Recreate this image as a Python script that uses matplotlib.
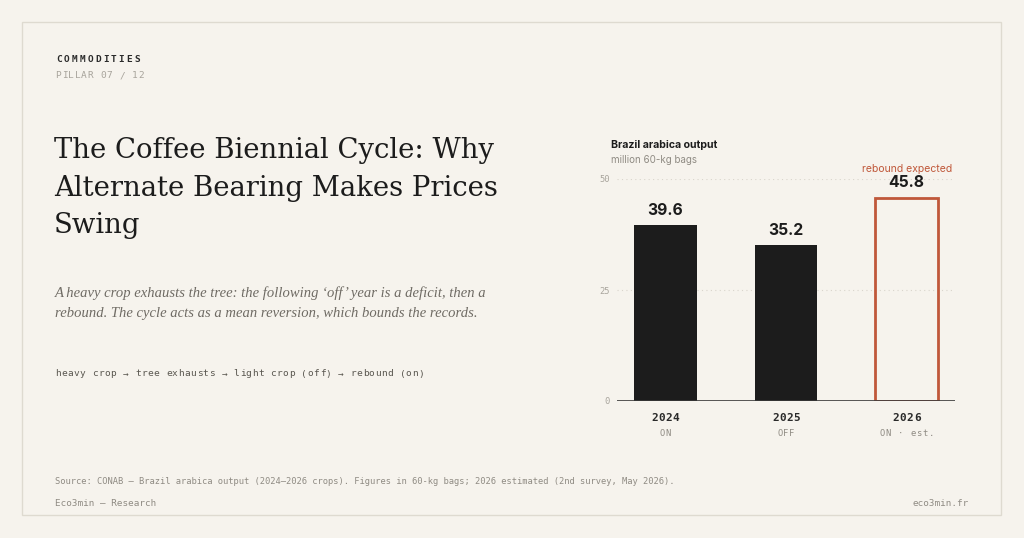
import matplotlib.pyplot as plt
from matplotlib.patches import Rectangle

# data
years = ["2024", "2025", "2026"]
phases = ["ON", "OFF", "ON · est."]
output = [39.6, 35.2, 45.8]
estimated = [False, False, True]
yticks = [0, 25, 50]

BG = "#f6f3ed"
INK = "#1c1c1c"
RED = "#c0583a"
W, H = 1024, 538

fig = plt.figure(figsize=(10.24, 5.38), dpi=100)
fig.patch.set_facecolor(BG)


def fx(px):
    return px / W


def fy(py):
    return 1 - py / H


def tracked(px, py, s, adv, ha="left", **kw):
    # monospace text with letter spacing, one glyph at a time (pixel coords)
    total = adv * len(s)
    if ha == "center":
        px = px - total / 2
    elif ha == "right":
        px = px - total
    for i, ch in enumerate(s):
        fig.text(fx(px + i * adv + adv / 2), fy(py), ch, ha="center", va="center", **kw)


# card border
fig.add_artist(Rectangle((fx(22), fy(515)), (1001 - 22) / W, (515 - 22) / H,
                         transform=fig.transFigure, fill=False, edgecolor="#dedad0", lw=1))

mono = "DejaVu Sans Mono"

tracked(55, 59, "COMMODITIES", 7.8, family=mono, fontsize=6.8, weight="bold", color="#2a2a2a")
tracked(55, 76, "PILLAR 07 / 12", 6.4, family=mono, fontsize=6.8, color="#a8a49c")

title_lines = ["The Coffee Biennial Cycle: Why", "Alternate Bearing Makes Prices", "Swing"]
for line, base in zip(title_lines, [158, 196, 233]):
    fig.text(fx(54), fy(base), line, family="DejaVu Serif", fontsize=19.8, color=INK,
             va="baseline")

sub_lines = ["A heavy crop exhausts the tree: the following \u2018off\u2019 year is a deficit, then a",
             "rebound. The cycle acts as a mean reversion, which bounds the records."]
for line, base in zip(sub_lines, [297, 317]):
    fig.text(fx(55), fy(base), line, family="Liberation Serif", style="italic", fontsize=10.5,
             color="#6f6b64", va="baseline")

tracked(55, 374, "heavy crop \u2192 tree exhausts \u2192 light crop (off) \u2192 rebound (on)", 6.15,
        family=mono, fontsize=6.8, color="#5a5750")

fig.text(fx(55), fy(481), "Source: CONAB \u2014 Brazil arabica output (2024\u20132026 crops). "
         "Figures in 60-kg bags; 2026 estimated (2nd survey, May 2026).",
         family=mono, fontsize=6.35, color="#8f8b83", va="center")
fig.text(fx(55), fy(503), "Eco3min \u2014 Research", family=mono, fontsize=6.65, color="#8f8b83",
         va="center")
fig.text(fx(969), fy(503), "eco3min.fr", family=mono, fontsize=6.65, color="#8f8b83",
         va="center", ha="right")

# chart
ax = fig.add_axes([fx(617), fy(401), fx(955) - fx(617), fy(179) - fy(401)])
ax.patch.set_alpha(0)
ax.set_xlim(-0.4, 2.4)
ax.set_ylim(0, 50)

for i, v in enumerate(output):
    if estimated[i]:
        ax.bar(i, v, width=0.52, facecolor="none", edgecolor=RED, lw=2, zorder=3)
        ax.text(i, v + 6.5, "rebound expected", ha="center", va="center", fontsize=7.5,
                color=RED, family="Inter")
    else:
        ax.bar(i, v, width=0.52, color=INK, zorder=3)
    ax.text(i, v + 3.3, f"{v:.1f}", ha="center", va="center", fontsize=11.3,
            weight="bold", color=INK, family="Inter")

for t in yticks[1:]:
    ax.axhline(t, color="#d9d5cc", lw=0.8, ls=(0, (1, 3)), zorder=1)
ax.axhline(0, color="#3a3a3a", lw=1.2, zorder=4)

ax.set_yticks(yticks)
ax.set_yticklabels([str(t) for t in yticks], family=mono, fontsize=6.3, color="#a8a49c")
ax.tick_params(axis="y", length=0, pad=5)
ax.set_xticks([])
for s in ax.spines.values():
    s.set_visible(False)

# category labels under the bars, placed from the axis transform
for i in range(len(years)):
    cx = ax.transData.transform((i, 0))[0]
    tracked(cx, 418, years[i], 7.0, ha="center", family=mono, fontsize=8,
            weight="bold", color="#2a2a2a")
    tracked(cx, 434, phases[i], 6.1, ha="center", family=mono, fontsize=6.4,
            color="#8f8b83")

fig.text(fx(611), fy(145), "Brazil arabica output", family="Inter", fontsize=7.6, weight="bold",
         color=INK, va="center")
fig.text(fx(611), fy(160), "million 60-kg bags", family="Inter", fontsize=7, color="#8f8b83",
         va="center")

fig.savefig("out.png", dpi=100, facecolor=BG)
